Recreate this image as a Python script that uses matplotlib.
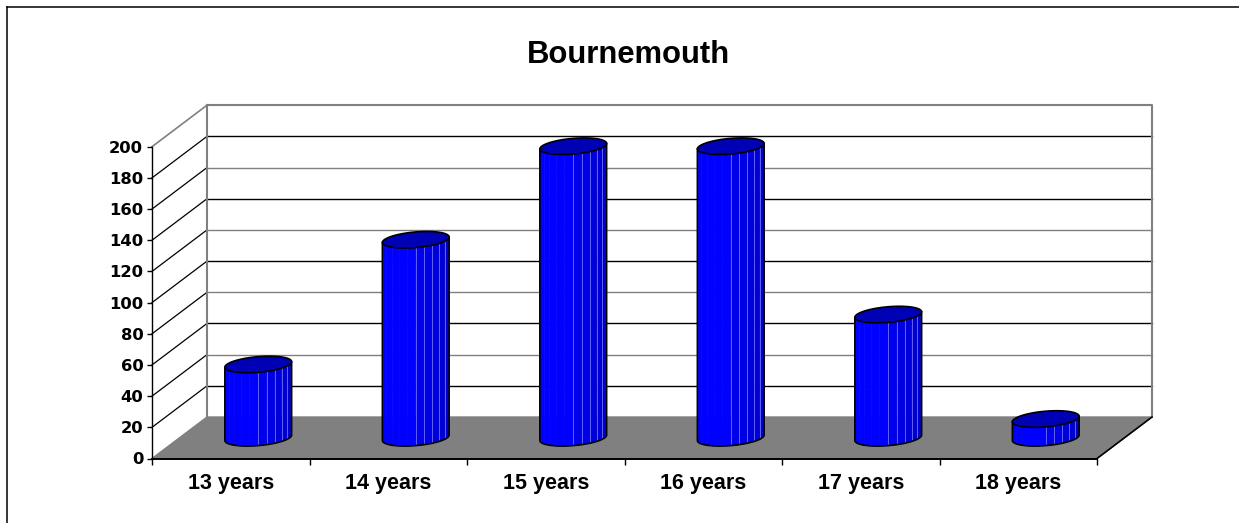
import numpy as np
import matplotlib
matplotlib.use("Agg")
import matplotlib.pyplot as plt
from matplotlib.lines import Line2D

# ---- data ----
categories = ["13 years", "14 years", "15 years", "16 years", "17 years", "18 years"]
values = [47, 127, 187, 187, 79, 12]
yticks = list(range(0, 201, 20))
title = "Bournemouth"

W, H = 1239, 523
fig = plt.figure(figsize=(W / 100, H / 100), dpi=100)
fig.patch.set_facecolor("white")

# front plot area in pixels
x0p, x1p = 152, 1097
y0p, y1p = 458.5, 146.7
ax = fig.add_axes([x0p / W, (H - y0p) / H, (x1p - x0p) / W, (y0p - y1p) / H])
ax.set_xlim(0, len(categories))
ax.set_ylim(0, 200)
ax.patch.set_visible(False)

# oblique depth vector (data units)
px_per_x = (x1p - x0p) / len(categories)
px_per_y = (y0p - y1p) / 200
Dx = 55 / px_per_x
Dy = 41.5 / px_per_y
n = len(categories)
ymax = 200

kw = dict(clip_on=False)
# back wall
ax.fill([Dx, n + Dx, n + Dx, Dx], [Dy, Dy, ymax + Dy, ymax + Dy], color="white", zorder=0.5, **kw)
# side wall
ax.fill([0, Dx, Dx, 0], [0, Dy, ymax + Dy, ymax], color="white", zorder=0.5, **kw)
# gridlines
for k, v in enumerate(yticks[1:-1]):
    c = "black" if k % 2 == 0 else "#808080"
    ax.plot([Dx, n + Dx], [v + Dy, v + Dy], color=c, lw=1.0, zorder=1, **kw)
    ax.plot([0, Dx], [v, v + Dy], color="black", lw=0.9, zorder=1, **kw)
# wall borders
ax.plot([Dx, n + Dx, n + Dx], [ymax + Dy, ymax + Dy, Dy], color="#808080", lw=1.5, zorder=1.2, **kw)
ax.plot([Dx, Dx], [Dy, ymax + Dy], color="#808080", lw=1.5, zorder=1.2, **kw)
ax.plot([0, Dx], [ymax, ymax + Dy], color="#808080", lw=1.2, zorder=1.2, **kw)
# floor
ax.fill([0, n, n + Dx, Dx], [0, 0, Dy, Dy], color="#808080", zorder=1.5, **kw)
ax.plot([n, n + Dx], [0, Dy], color="black", lw=1.2, zorder=1.6, **kw)

# cylinders
rx = 0.2
ex = 0.2 * Dx
ey = 0.2 * Dy
t0 = np.arctan2(ex, rx)


def ell(cx, cy, t):
    return cx + rx * np.cos(t) + ex * np.sin(t), cy + ey * np.sin(t)


N = 12
for i, v in enumerate(values):
    cx = i + 0.5 + 0.5 * Dx
    cb = 0.5 * Dy
    ct = v + 0.5 * Dy
    ts = np.linspace(t0 + np.pi, t0 + 2 * np.pi, N + 1)
    for k in range(N):
        s = (k + 0.5) / N
        b = 255 if s < 0.5 else 240 - (s - 0.5) / 0.5 * 50
        tt = np.linspace(ts[k], ts[k + 1], 5)
        bx, by = ell(cx, cb, tt)
        tx, ty = ell(cx, ct, tt[::-1])
        col = (0, 0, b / 255)
        ax.fill(np.r_[bx, tx], np.r_[by, ty], color=col, lw=0.4, ec=col, zorder=3, **kw)
    for k in range(6, N - 1):
        lx, ly = ell(cx, cb, ts[k])
        ux, uy = ell(cx, ct, ts[k])
        ax.plot([lx, ux], [ly, uy], color="#7070FF", lw=0.6, zorder=3.1, **kw)
    # outline of body
    tb = np.linspace(t0 + np.pi, t0 + 2 * np.pi, 80)
    bx, by = ell(cx, cb, tb)
    lx, ly = ell(cx, ct, t0 + np.pi)
    rxp, ryp = ell(cx, ct, t0)
    ax.plot(np.r_[lx, bx, rxp], np.r_[ly, by, ryp], color="black", lw=1.2, zorder=3.2, **kw)
    # top
    tf = np.linspace(0, 2 * np.pi, 100)
    tx, ty = ell(cx, ct, tf)
    ax.fill(tx, ty, color="#0000B4", ec="black", lw=1.2, zorder=3.3, **kw)

# axes styling
for sp in ["top", "right"]:
    ax.spines[sp].set_visible(False)
ax.spines["left"].set_color("black")
ax.spines["left"].set_linewidth(1.0)
ax.spines["bottom"].set_color("black")
ax.spines["bottom"].set_linewidth(1.4)
ax.spines["left"].set_zorder(2.5)
ax.spines["bottom"].set_zorder(2.5)

ax.set_yticks(yticks)
ax.set_yticklabels([str(t) for t in yticks], fontfamily="DejaVu Sans", fontweight="bold", fontsize=11.8)
ax.tick_params(axis="y", direction="out", length=3.6, width=1, pad=2.7, colors="black")

ax.set_xticks(range(n + 1))
ax.set_xticklabels([])
ax.set_xticks(np.arange(n) + 0.5, minor=True)
ax.set_xticklabels(categories, minor=True, fontfamily="Liberation Sans", fontweight="bold", fontsize=15.5)
ax.tick_params(axis="x", which="major", direction="out", length=4.3, width=1, colors="black")
ax.tick_params(axis="x", which="minor", length=0, pad=10.5)

fig.text(628 / W, 1 - 63.3 / H, title, ha="center", va="baseline",
         fontfamily="Liberation Sans", fontweight="bold", fontsize=22.3)

# chart frame
fig.add_artist(Line2D([7 / W, 7 / W], [0, 1 - 7 / H], color="black", lw=1.1, transform=fig.transFigure))
fig.add_artist(Line2D([7 / W, 1], [1 - 7 / H, 1 - 7 / H], color="black", lw=1.1, transform=fig.transFigure))

fig.savefig("out.png", dpi=100)
